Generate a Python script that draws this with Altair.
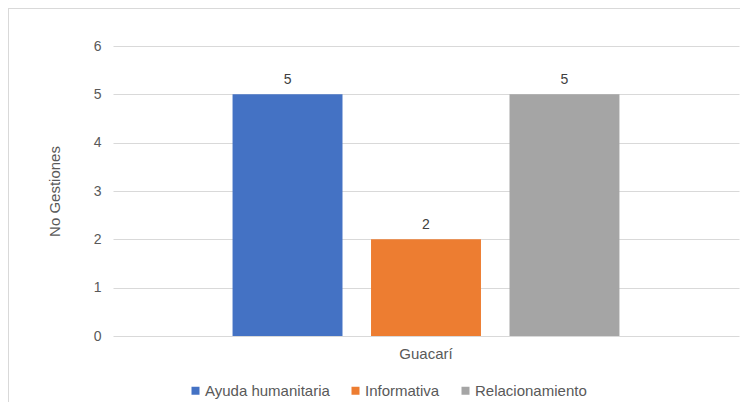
import altair as alt
import pandas as pd

municipio = ["Guacarí", "Guacarí", "Guacarí"]
tipos = ["Ayuda humanitaria", "Informativa", "Relacionamiento"]
gestiones = [5, 2, 5]
colores = ["#4472C4", "#ED7D31", "#A5A5A5"]

df = pd.DataFrame({"municipio": municipio, "tipo": tipos, "valor": gestiones})

W, H = 626, 290
FONT = "Liberation Sans"

base = alt.Chart(df).encode(
    x=alt.X("municipio:N", title=None,
            scale=alt.Scale(paddingInner=0, paddingOuter=0.309),
            axis=alt.Axis(labelAngle=0, ticks=False, domain=False, labelPadding=10,
                          labelFontSize=15, labelColor="#595959", labelFont=FONT)),
    xOffset=alt.XOffset("tipo:N", sort=tipos,
                        scale=alt.Scale(paddingInner=0.206, paddingOuter=0)),
)

bars = base.mark_bar().encode(
    y=alt.Y("valor:Q", title="No Gestiones",
            scale=alt.Scale(domain=[0, 6], nice=False),
            axis=alt.Axis(values=[0, 1, 2, 3, 4, 5, 6], ticks=False, domain=False,
                          labelPadding=12, labelFontSize=14, labelColor="#595959",
                          labelFont=FONT, titleFont=FONT, titleFontSize=15,
                          titleFontWeight="normal", titleColor="#595959",
                          titlePadding=31, gridColor="#D9D9D9", gridWidth=1)),
    color=alt.Color("tipo:N", sort=tipos,
                    scale=alt.Scale(domain=tipos, range=colores),
                    legend=alt.Legend(title=None, orient="none", direction="horizontal",
                                      legendX=75, legendY=337, symbolType="square",
                                      symbolSize=64, symbolStrokeWidth=0,
                                      labelFontSize=15, labelColor="#595959",
                                      labelFont=FONT, columnPadding=18,
                                      labelOffset=2)),
)

labels = base.mark_text(dy=-14, fontSize=14, font=FONT, color="#404040").encode(
    y=alt.Y("valor:Q"),
    text=alt.Text("valor:Q"),
)

border_left = alt.Chart(df).mark_rule(color="#D9D9D9", strokeWidth=1).encode(
    x=alt.value(-104.5), y=alt.value(-37.5), y2=alt.value(H + 70)
)
border_top = alt.Chart(df).mark_rule(color="#D9D9D9", strokeWidth=1).encode(
    x=alt.value(-104.5), x2=alt.value(W + 10), y=alt.value(-37.5)
)

chart = alt.layer(border_left, border_top, bars, labels).properties(
    width=W, height=H,
    autosize=alt.AutoSizeParams(type="none"),
    padding={"left": 105, "top": 38, "right": 1, "bottom": 66},
).configure_view(stroke=None)

chart.save("out.html", embed_options={"renderer": "svg", "actions": False})
